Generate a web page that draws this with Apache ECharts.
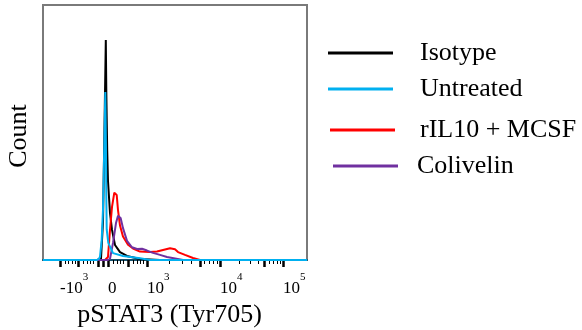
<!DOCTYPE html>
<html>
<head>
<meta charset="utf-8">
<script src="https://cdn.jsdelivr.net/npm/echarts@6.0.0/dist/echarts.min.js"></script>
<style>
  html, body { margin: 0; padding: 0; background: #fff; }
  #chart { width: 582px; height: 330px; }
</style>
</head>
<body>
<div id="chart"></div>
<script>
// histogram outlines: [display channel 0-1000 (biex), % of max count]
const isotype = [[0, 0], [204, 0], [219.7, 0.5], [227.3, 15], [234.1, 60], [237.9, 86.3], [239.8, 66],
  [243.2, 43], [246.2, 31], [253.8, 18.4], [261.4, 11.8], [272.7, 5.9], [291.7, 3.1], [318.2, 1.6],
  [367.4, 0.4], [405.3, 0.2], [443, 0], [1000, 0]];
const untreated = [[0, 0], [204.5, 0], [212.1, 0.5], [215.9, 1.3], [222.3, 7.8], [227.3, 20], [232.2, 45],
  [236, 65.9], [238.3, 45], [239.8, 25], [241.3, 12], [247.3, 6.7], [265.2, 2.7], [303, 1.6],
  [367.4, 0.7], [405.3, 0], [1000, 0]];
const ril10 = [[0, 0], [234.9, 0], [242.4, 0.5], [246.2, 1.2], [253.8, 11.8], [261.4, 20.8], [270.1, 26.4],
  [279.2, 25.5], [284.1, 19.6], [291.7, 13.5], [303, 9.2], [322, 6], [340.9, 4.5], [367.4, 3.3],
  [405.3, 3.1], [431.8, 3.3], [454.6, 3.9], [481.1, 4.6], [488, 4.8], [500, 4.2], [511.4, 3.1],
  [537.9, 2], [568.2, 0.8], [594.7, 0], [1000, 0]];
const colivelin = [[0, 0], [246.2, 0], [253.8, 0.5], [265.2, 6.7], [276.5, 14.5], [284.1, 17.3], [289, 17.6],
  [294, 16.5], [303, 12.5], [318.2, 7.5], [337.1, 5], [356.1, 4.3], [375, 4.4], [394, 3.7],
  [416.7, 2.8], [443.2, 2], [469.7, 1.2], [500.3, 0.6], [530.3, 0], [1000, 0]];

const seriesNames = ['Isotype', 'Untreated', 'rIL10 + MCSF', 'Colivelin'];
const seriesColors = ['#000000', '#00b0f0', '#ff0000', '#7030a0'];

// axis ticks in display channels
const majorTicks = [64.4, 132.6, 208.3, 227.3, 246.2, 322, 394, 594.7, 670.5, 837.1, 909.1];
const minorTicks = [83.3, 94.7, 109.9, 121.2, 151.5, 166.7, 178, 189.4, 265.2, 280.3, 291.7, 303,
  340.9, 356.1, 367.4, 378.8, 477.3, 526.5, 560.6, 609.9, 628.8, 643.9, 659.1, 742.4, 784.1,
  814.4, 856.1, 871.2, 886.4, 897.7];
const labelTicks = [64.4, 246.2, 394, 670.5, 909.1];
const labelBase = ['-10', '0', '10', '10', '10'];
const labelExp = ['3', '', '3', '4', '5'];

const FONT = 'Liberation Serif';
const chart = echarts.init(document.getElementById('chart'));

const seriesData = [isotype, untreated, ril10, colivelin];
// cyan drawn last so it sits on top
const drawOrder = [0, 2, 3, 1];

const legendPos = [
  { left: 328, top: 40, pad: 22 },
  { left: 328, top: 76, pad: 22 },
  { left: 330, top: 117, pad: 20 },
  { left: 333, top: 153, pad: 14 },
];

const option = {
  animation: false,
  grid: {
    left: 43, right: 275, top: 5, bottom: 70,
    show: true, borderColor: '#7a7a7a', borderWidth: 2,
    outerBoundsMode: 'none'
  },
  legend: legendPos.map((p, i) => ({
    data: [seriesNames[i]],
    left: p.left,
    top: p.top,
    padding: 0,
    icon: 'rect',
    itemWidth: 65,
    itemHeight: 3,
    selectedMode: false,
    textStyle: { fontFamily: FONT, fontSize: 26, color: '#000', padding: [0, 0, 0, p.pad] }
  })),
  xAxis: [
    {
      type: 'value',
      min: 0,
      max: 1000,
      name: 'pSTAT3 (Tyr705)',
      nameLocation: 'middle',
      nameGap: 33,
      nameTextStyle: { fontFamily: FONT, fontSize: 26, color: '#000', padding: [0, 11, 0, 0] },
      axisLine: { show: true, lineStyle: { color: '#14506b', width: 2 } },
      splitLine: { show: false },
      axisTick: {
        show: true,
        customValues: majorTicks,
        length: 7,
        lineStyle: { color: '#000', width: 2.5 }
      },
      axisLabel: {
        customValues: labelTicks,
        margin: 12,
        align: 'left',
        formatter: (v) => {
          let i = 0;
          labelTicks.forEach((t, k) => { if (Math.abs(t - v) < Math.abs(labelTicks[i] - v)) i = k; });
          return '{b|' + labelBase[i] + '}' + (labelExp[i] ? '{s|' + labelExp[i] + '}' : '');
        },
        rich: {
          b: { fontFamily: FONT, fontSize: 17, color: '#000', lineHeight: 25, verticalAlign: 'bottom' },
          s: { fontFamily: FONT, fontSize: 11, color: '#000', lineHeight: 10, verticalAlign: 'top' }
        }
      }
    },
    {
      type: 'value',
      min: 0,
      max: 1000,
      position: 'bottom',
      axisLine: { show: false },
      splitLine: { show: false },
      axisLabel: { show: false },
      axisTick: {
        show: true,
        customValues: minorTicks,
        length: 4,
        lineStyle: { color: '#000', width: 1 }
      }
    }
  ],
  yAxis: {
    type: 'value',
    min: 0,
    max: 100,
    name: 'Count',
    nameLocation: 'middle',
    nameRotate: 90,
    nameGap: 11,
    nameTextStyle: { fontFamily: FONT, fontSize: 26, color: '#000', padding: [0, 7, 0, 0] },
    axisLine: { show: false },
    axisTick: { show: false },
    axisLabel: { show: false },
    splitLine: { show: false }
  },
  series: drawOrder.map((i) => ({
    name: seriesNames[i],
    type: 'line',
    xAxisIndex: 0,
    data: seriesData[i],
    showSymbol: false,
    symbol: 'none',
    color: seriesColors[i],
    lineStyle: { color: seriesColors[i], width: 2 }
  }))
};

chart.setOption(option);
</script>
</body>
</html>
